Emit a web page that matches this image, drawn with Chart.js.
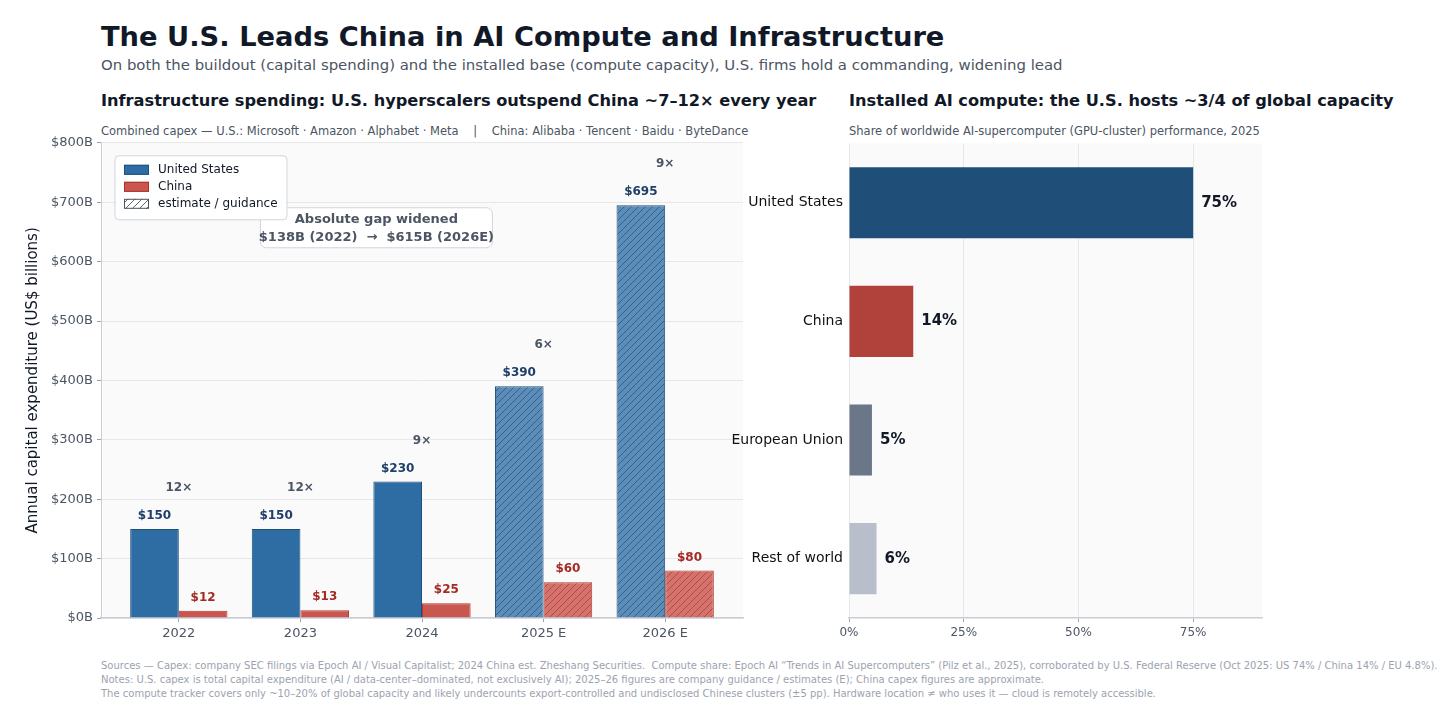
<!DOCTYPE html>
<html>
<head>
<meta charset="utf-8">
<script src="https://cdn.jsdelivr.net/npm/chart.js@4.4.1/dist/chart.umd.min.js"></script>
<style>
  body { margin: 0; width: 1456px; height: 725px; background: #fff; font-family: "DejaVu Sans", sans-serif; position: relative; overflow: hidden; }
  .t { position: absolute; white-space: nowrap; }
  .box { position: absolute; }
</style>
</head>
<body>
<div class="t" style="left:101px;top:20px;font-size:27.3px;line-height:34px;font-weight:bold;color:#111827">The U.S. Leads China in AI Compute and Infrastructure</div>
<div class="t" style="left:101px;top:56px;font-size:14.9px;line-height:18px;color:#4b5563">On both the buildout (capital spending) and the installed base (compute capacity), U.S. firms hold a commanding, widening lead</div>
<div class="t" style="left:101px;top:91px;font-size:16.2px;line-height:20px;font-weight:bold;color:#111827">Infrastructure spending: U.S. hyperscalers outspend China ~7–12× every year</div>
<div class="t" style="left:849px;top:91px;font-size:16.2px;line-height:20px;font-weight:bold;color:#111827">Installed AI compute: the U.S. hosts ~3/4 of global capacity</div>
<div class="t" style="left:101px;top:124px;font-size:11.5px;line-height:14px;color:#4b5563">Combined capex — U.S.: Microsoft · Amazon · Alphabet · Meta &nbsp;&nbsp; | &nbsp;&nbsp; China: Alibaba · Tencent · Baidu · ByteDance</div>
<div class="t" style="left:849px;top:124px;font-size:11.5px;line-height:14px;color:#4b5563">Share of worldwide AI-supercomputer (GPU-cluster) performance, 2025</div>

<div class="box" style="left:0;top:131px;width:760px;height:519px"><canvas id="capex-chart"></canvas></div>
<div class="box" style="left:720px;top:129px;width:580px;height:521px"><canvas id="share-chart"></canvas></div>

<div class="t" style="left:101px;top:659px;font-size:10px;line-height:14px;color:#9ca3af">Sources — Capex: company SEC filings via Epoch AI / Visual Capitalist; 2024 China est. Zheshang Securities.&nbsp; Compute share: Epoch AI “Trends in AI Supercomputers” (Pilz et al., 2025), corroborated by U.S. Federal Reserve (Oct 2025: US 74% / China 14% / EU 4.8%).<br>Notes: U.S. capex is total capital expenditure (AI / data-center–dominated, not exclusively AI); 2025–26 figures are company guidance / estimates (E); China capex figures are approximate.<br>The compute tracker covers only ~10–20% of global capacity and likely undercounts export-controlled and undisclosed Chinese clusters (±5 pp). Hardware location ≠ who uses it — cloud is remotely accessible.</div>

<script>
// capex, US$ billions
const years = ['2022', '2023', '2024', '2025 E', '2026 E'];
const usCapex = [150, 150, 230, 390, 695];
const chinaCapex = [12, 13, 25, 60, 80];
const ratioLabels = ['12×', '12×', '9×', '6×', '9×'];
const isEstimate = [false, false, false, true, true];
const capexTicks = [0, 100, 200, 300, 400, 500, 600, 700, 800];

// compute share, % of global
const regions = ['United States', 'China', 'European Union', 'Rest of world'];
const computeShare = [75, 14, 5, 6];
const shareTicks = [0, 25, 50, 75];

const FONT = '"DejaVu Sans", sans-serif';

function hatch(bg, line) {
  const s = 7;
  const c = document.createElement('canvas');
  c.width = s; c.height = s;
  const g = c.getContext('2d');
  if (bg) { g.fillStyle = bg; g.fillRect(0, 0, s, s); }
  g.strokeStyle = line;
  g.lineWidth = 0.9;
  g.beginPath();
  g.moveTo(0, s); g.lineTo(s, 0);
  g.moveTo(-1, 1); g.lineTo(1, -1);
  g.moveTo(s - 1, s + 1); g.lineTo(s + 1, s - 1);
  g.stroke();
  return g.createPattern(c, 'repeat');
}

const usHatch = hatch('#5b8db8', '#2f5d8a');
const cnHatch = hatch('#d4736d', '#b5453c');
const usFills = isEstimate.map(e => e ? usHatch : '#2e6da4');
const cnFills = isEstimate.map(e => e ? cnHatch : '#c9564f');

const plotBg = {
  id: 'plotBg',
  beforeDraw(chart) {
    const a = chart.chartArea, ctx = chart.ctx;
    ctx.save();
    ctx.fillStyle = '#fafafa';
    ctx.fillRect(a.left, a.top, a.right - a.left, a.bottom - a.top);
    ctx.restore();
  }
};

function roundBox(ctx, x, y, w, h, r) {
  ctx.beginPath();
  ctx.roundRect(x, y, w, h, r);
  ctx.fillStyle = 'rgba(255,255,255,0.92)';
  ctx.fill();
  ctx.strokeStyle = '#d1d5db';
  ctx.lineWidth = 1;
  ctx.stroke();
}

const capexLabels = {
  id: 'capexLabels',
  afterDatasetsDraw(chart) {
    const ctx = chart.ctx;
    const us = chart.getDatasetMeta(0).data;
    const cn = chart.getDatasetMeta(1).data;
    const xs = chart.scales.x, ys = chart.scales.y;
    ctx.save();
    ctx.textAlign = 'center';
    ctx.textBaseline = 'middle';
    ctx.font = 'bold 12px ' + FONT;
    us.forEach((b, i) => {
      ctx.fillStyle = '#1f3f6b';
      ctx.fillText('$' + usCapex[i], b.x, b.y - 13);
    });
    cn.forEach((b, i) => {
      ctx.fillStyle = '#a52a24';
      ctx.fillText('$' + chinaCapex[i], b.x, b.y - 13);
    });
    ctx.font = '600 12px ' + FONT;
    ctx.fillStyle = '#4b5563';
    us.forEach((b, i) => {
      ctx.fillText(ratioLabels[i], xs.getPixelForValue(i), b.y - 41);
    });

    // gap annotation
    const cx = xs.getPixelForValue(1.625), cy = ys.getPixelForValue(657);
    roundBox(ctx, cx - 116, cy - 20, 232, 40, 6);
    ctx.fillStyle = '#4b5563';
    ctx.font = 'bold 13px ' + FONT;
    ctx.fillText('Absolute gap widened', cx, cy - 8);
    ctx.fillText('$138B (2022)  →  $615B (2026E)', cx, cy + 10);

    // legend
    const a = chart.chartArea;
    const lx = a.left + 14, ly = a.top + 13;
    roundBox(ctx, lx, ly, 172, 64, 4);
    const items = [
      { text: 'United States', fill: '#2e6da4', edge: '#1f4e79' },
      { text: 'China', fill: '#c9564f', edge: '#a93226' },
      { text: 'estimate / guidance', fill: hatch('#ffffff', '#4b5563'), edge: '#4b5563' }
    ];
    ctx.textAlign = 'left';
    ctx.font = '12px ' + FONT;
    items.forEach((it, k) => {
      const y = ly + 14 + k * 17;
      ctx.fillStyle = it.fill;
      ctx.fillRect(lx + 9, y - 5, 25, 10);
      ctx.strokeStyle = it.edge;
      ctx.strokeRect(lx + 9.5, y - 4.5, 24, 9);
      ctx.fillStyle = '#111827';
      ctx.fillText(it.text, lx + 43, y);
    });
    ctx.restore();
  }
};

const capexChart = new Chart(document.getElementById('capex-chart'), {
  type: 'bar',
  data: {
    datasets: [
      {
        label: 'United States',
        data: usCapex.map((v, i) => ({ x: i, y: v })),
        backgroundColor: usFills,
        borderColor: '#1f4e79',
        borderWidth: 1,
        categoryPercentage: 0.8,
        barPercentage: 1,
      },
      {
        label: 'China',
        data: chinaCapex.map((v, i) => ({ x: i, y: v })),
        backgroundColor: cnFills,
        borderColor: '#b03a2e',
        borderWidth: 1,
        categoryPercentage: 0.8,
        barPercentage: 1,
      },
    ],
  },
  options: {
    responsive: true,
    maintainAspectRatio: false,
    animation: false,
    layout: { padding: { top: 3, right: 17, left: 0, bottom: 0 } },
    plugins: { legend: { display: false }, tooltip: { enabled: false } },
    scales: {
      x: {
        type: 'linear',
        min: -0.64,
        max: 4.64,
        offset: false,
        afterBuildTicks: s => { s.ticks = years.map((_, i) => ({ value: i })); },
        afterFit: s => { s.height = 32; },
        grid: { offset: false, drawOnChartArea: false, tickLength: 4, tickColor: '#9ca3af' },
        border: { color: '#c9cdd4', width: 1.5 },
        ticks: { autoSkip: false, maxRotation: 0, padding: 4, color: '#4b5563', font: { family: FONT, size: 13 }, callback: v => years[v] },
      },
      y: {
        min: 0,
        max: 800,
        afterBuildTicks: s => { s.ticks = capexTicks.map(v => ({ value: v })); },
        afterFit: s => { s.width = 101; },
        grid: { color: '#e5e7eb', tickLength: 4, tickColor: '#9ca3af' },
        border: { color: '#c9cdd4' },
        ticks: { padding: 4, color: '#4b5563', font: { family: FONT, size: 13 }, callback: v => '$' + v + 'B' },
        title: { display: true, text: 'Annual capital expenditure (US$ billions)', color: '#111827', font: { family: FONT, size: 15 }, padding: { top: 24, bottom: 0 } },
      },
    },
  },
  plugins: [plotBg, capexLabels],
});

const shareLabels = {
  id: 'shareLabels',
  afterDatasetsDraw(chart) {
    const ctx = chart.ctx;
    ctx.save();
    ctx.textAlign = 'left';
    ctx.textBaseline = 'middle';
    ctx.font = 'bold 15px ' + FONT;
    ctx.fillStyle = '#111827';
    chart.getDatasetMeta(0).data.forEach((b, i) => {
      ctx.fillText(computeShare[i] + '%', b.x + 8, b.y);
    });
    ctx.restore();
  }
};

const shareChart = new Chart(document.getElementById('share-chart'), {
  type: 'bar',
  data: {
    labels: regions,
    datasets: [
      {
        label: 'Share',
        data: computeShare,
        backgroundColor: ['#1f4e79', '#b0413b', '#6b7789', '#b8bfca'],
        borderWidth: 0,
        categoryPercentage: 1,
        barPercentage: 0.6,
      },
    ],
  },
  options: {
    indexAxis: 'y',
    responsive: true,
    maintainAspectRatio: false,
    animation: false,
    layout: { padding: { top: 3, right: 38, left: 0, bottom: 0 } },
    plugins: { legend: { display: false }, tooltip: { enabled: false } },
    scales: {
      x: {
        min: 0,
        max: 90,
        afterBuildTicks: s => { s.ticks = shareTicks.map(v => ({ value: v })); },
        afterFit: s => { s.height = 32; },
        grid: { color: '#e5e7eb', tickLength: 4, tickColor: '#9ca3af' },
        border: { color: '#c9cdd4', width: 1.5 },
        ticks: { padding: 4, color: '#4b5563', font: { family: FONT, size: 12 }, callback: v => v + '%' },
      },
      y: {
        afterFit: s => { s.width = 129; },
        grid: { display: false, drawTicks: false, tickLength: 0 },
        border: { display: false },
        ticks: { padding: 6, color: '#111111', font: { family: FONT, size: 14 } },
      },
    },
  },
  plugins: [plotBg, shareLabels],
});
</script>
</body>
</html>
